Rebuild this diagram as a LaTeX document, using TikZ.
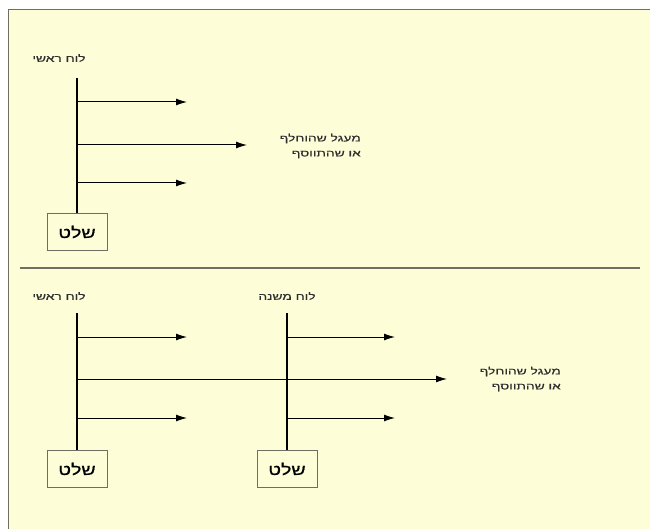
\documentclass[tikz,border=0pt]{standalone}
\usepackage{fontspec}
\setmainfont{Liberation Sans}
\newfontfamily\hebfont[Script=Hebrew,FakeStretch=1.45,FakeBold=0.6]{Liberation Sans}
\newfontfamily\hebbox[Script=Hebrew,FakeStretch=1.3,FakeBold=0.8]{Liberation Sans}
\TeXXeTstate=1
\usetikzlibrary{arrows.meta}
\definecolor{paper}{HTML}{FDFED8}
\definecolor{framegray}{HTML}{6E6E62}
\definecolor{txtgray}{HTML}{2E2E2E}
\tikzset{
  bus/.style={line width=2.8pt, black},
  feed/.style={line width=1pt, black, -{Latex[length=11pt,width=7pt]}},
  lbl/.style={font=\hebfont\fontsize{9.5}{11}\selectfont, text=txtgray, inner sep=1pt},
  note/.style={font=\hebfont\fontsize{9.5}{15}\selectfont, text=txtgray, align=right, inner sep=1pt},
  remote/.style={draw=framegray, line width=1pt, minimum width=60pt, minimum height=37pt, font=\hebbox\fontsize{15}{17}\selectfont, text=black, inner sep=2pt},
}
\begin{document}
\begin{tikzpicture}[x=1pt,y=-1pt]
\useasboundingbox (0,0) rectangle (650,529);
\clip (0,0) rectangle (650,529);
\fill[white] (0,0) rectangle (650,529);
\draw[fill=paper, draw=framegray, line width=1.3pt] (8.5,9.5) rectangle (700,600);
\draw[framegray, line width=1.2pt] (20,268) -- (640,268);

% ---- top section ----
\node[lbl] (l1) at (59,58) {\beginR לוח ראשי\endR};
\coordinate (b1t) at (77,78);
\coordinate (b1b) at (77,213);
\draw[bus] (b1t) -- (b1b);
\node[remote, anchor=north] (s1) at (b1b) {\beginR שלט\endR};
\coordinate (a1s) at (77,102);
\coordinate (a1e) at (187,102);
\coordinate (a2s) at (77,145);
\coordinate (a2e) at (247,145);
\coordinate (a3s) at (77,183);
\coordinate (a3e) at (187,183);
\draw[feed] (a1s) -- (a1e);
\draw[feed] (a2s) -- (a2e);
\draw[feed] (a3s) -- (a3e);
\node[note, anchor=east] (n1) at (362,146) {\beginR מעגל שהוחלף\endR\\\beginR או שהתווסף\endR};

% ---- bottom section ----
\node[lbl] (l2) at (59,296) {\beginR לוח ראשי\endR};
\node[lbl] (l3) at (287,296) {\beginR לוח משנה\endR};
\coordinate (b2t) at (77,313);
\coordinate (b2b) at (77,450);
\coordinate (b3t) at (287,313);
\coordinate (b3b) at (287,450);
\draw[bus] (b2t) -- (b2b);
\draw[bus] (b3t) -- (b3b);
\node[remote, anchor=north] (s2) at (b2b) {\beginR שלט\endR};
\node[remote, anchor=north] (s3) at (b3b) {\beginR שלט\endR};
\coordinate (c1s) at (77,337);
\coordinate (c1e) at (187,337);
\coordinate (c2s) at (77,379);
\coordinate (c2e) at (447,379);
\coordinate (c3s) at (77,418);
\coordinate (c3e) at (187,418);
\coordinate (d1s) at (287,337);
\coordinate (d1e) at (395,337);
\coordinate (d3s) at (287,418);
\coordinate (d3e) at (395,418);
\draw[feed] (c1s) -- (c1e);
\draw[feed] (c2s) -- (c2e);
\draw[feed] (c3s) -- (c3e);
\draw[feed] (d1s) -- (d1e);
\draw[feed] (d3s) -- (d3e);
\node[note, anchor=east] (n2) at (562,379) {\beginR מעגל שהוחלף\endR\\\beginR או שהתווסף\endR};
\end{tikzpicture}
\end{document}
